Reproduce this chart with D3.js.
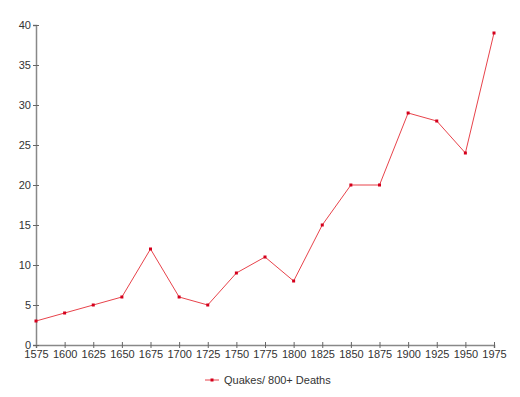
<!DOCTYPE html>
<html>
<head>
<meta charset="utf-8">
<script src="https://cdnjs.cloudflare.com/ajax/libs/d3/7.8.5/d3.min.js"></script>
<style>
  body { margin: 0; background: #fff; }
  svg { display: block; font-family: "Liberation Sans", Arial, sans-serif; }
</style>
</head>
<body>
<svg id="chart" width="520" height="397"></svg>
<script>
var years = [1575, 1600, 1625, 1650, 1675, 1700, 1725, 1750, 1775, 1800, 1825, 1850, 1875, 1900, 1925, 1950, 1975];
var quakes = [3, 4, 5, 6, 12, 6, 5, 9, 11, 8, 15, 20, 20, 29, 28, 24, 39];
var yTicks = [0, 5, 10, 15, 20, 25, 30, 35, 40];
var seriesName = "Quakes/ 800+ Deaths";

var svg = d3.select("#chart"),
    margin = { top: 25, right: 26, bottom: 52, left: 36 },
    width = +svg.attr("width") - margin.left - margin.right,
    height = +svg.attr("height") - margin.top - margin.bottom;

var x = d3.scaleLinear().domain([1575, 1975]).range([0, width]);
var y = d3.scaleLinear().domain([0, 40]).range([height, 0]);

var g = svg.append("g")
    .attr("transform", "translate(" + margin.left + "," + margin.top + ")");

// axes, ticks cross the axis line
var xAxis = g.append("g")
    .attr("transform", "translate(0," + height + ")")
    .call(d3.axisBottom(x).tickValues(years).tickFormat(d3.format("d")).tickSize(3).tickPadding(2));
xAxis.selectAll(".tick line").attr("y1", -3);

var yAxis = g.append("g")
    .call(d3.axisLeft(y).tickValues(yTicks).tickSize(3).tickPadding(2));
yAxis.selectAll(".tick line").attr("x1", 3);

g.selectAll(".domain").attr("stroke", "#888").attr("stroke-width", 1.5);
g.selectAll(".tick line").attr("stroke", "#666");
g.selectAll(".tick text").attr("fill", "#333").style("font-size", "11px");

var line = d3.line()
    .x(function(d, i) { return x(years[i]); })
    .y(function(d) { return y(d); });

g.append("path")
    .datum(quakes)
    .attr("fill", "none")
    .attr("stroke", "#e8434b")
    .attr("stroke-width", 1)
    .attr("d", line);

g.selectAll(".pt")
    .data(quakes)
    .enter()
    .append("rect")
    .attr("class", "pt")
    .attr("x", function(d, i) { return x(years[i]) - 1.5; })
    .attr("y", function(d) { return y(d) - 1.5; })
    .attr("width", 3)
    .attr("height", 3)
    .attr("fill", "#d4001c");

// legend
var legend = svg.append("g").attr("transform", "translate(205,380)");
legend.append("line")
    .attr("x1", 0).attr("x2", 14)
    .attr("stroke", "#e8434b");
legend.append("rect")
    .attr("x", 5.5).attr("y", -1.5)
    .attr("width", 3).attr("height", 3)
    .attr("fill", "#d4001c");
legend.append("text")
    .attr("x", 19)
    .attr("dy", "0.35em")
    .attr("fill", "#333")
    .style("font-size", "11px")
    .text(seriesName);
</script>
</body>
</html>
